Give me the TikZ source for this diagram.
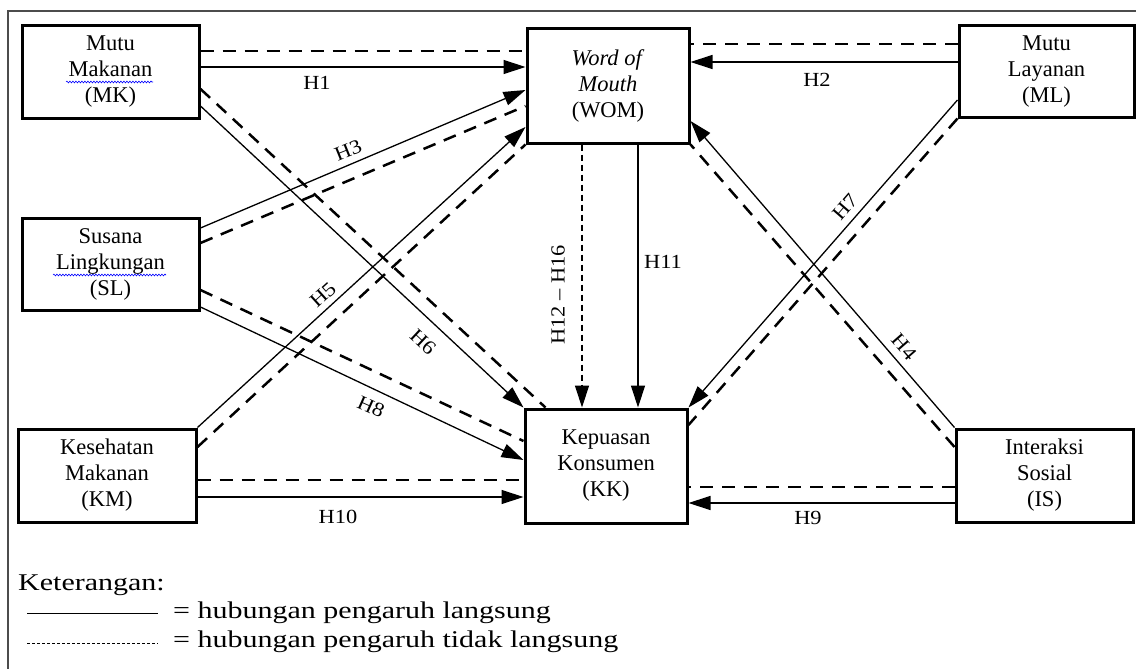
\documentclass[tikz,border=0pt]{standalone}
\usepackage{fontspec}
\setmainfont{Liberation Serif}
\usetikzlibrary{arrows.meta,decorations.pathmorphing}
\newcommand{\wx}[1]{\scalebox{1.25}[1]{#1}}
\newcommand{\hx}[1]{\scalebox{1.12}[1]{#1}}
\begin{document}
\begin{tikzpicture}[x=1pt,y=-1pt,
  box/.style={draw, line width=3pt, inner sep=0pt, align=center, font=\fontsize{22.5}{26}\selectfont},
  dir/.style={line width=1.3pt, -{Triangle[length=22pt,width=14pt]}},
  ind/.style={line width=2.5pt, dash pattern=on 13pt off 9pt},
  thind/.style={line width=1.3pt, dash pattern=on 6pt off 4pt, -{Triangle[length=22pt,width=14pt]}},
  lab/.style={font=\fontsize{20}{24}\selectfont, inner sep=0pt},
  leg/.style={anchor=base west, inner sep=0pt, font=\fontsize{24}{28}\selectfont},
  wavy/.style={blue, line width=0.6pt, decorate, decoration={snake, amplitude=0.9pt, segment length=3pt}},
  frame/.style={line width=1.3pt, black!70}
  ]
\useasboundingbox (0,0) rectangle (1136,669);
% frame
\draw[frame] (8,669) -- (8,11) -- (1136,11);

% boxes
\node[box, minimum width=177pt, minimum height=92pt] (MK) at (110.5,72) {Mutu\\Makanan\\(MK)};
\node[box, minimum width=162pt, minimum height=114pt] (WOM) at (608,86) {\textit{Word of}\\\textit{Mouth}\\(WOM)};
\node[box, minimum width=175pt, minimum height=91pt] (ML) at (1046.5,71.5) {Mutu\\Layanan\\(ML)};
\node[box, minimum width=177pt, minimum height=92pt] (SL) at (110.5,264) {Susana\\Lingkungan\\(SL)};
\node[box, minimum width=178pt, minimum height=93pt] (KM) at (107,475.5) {Kesehatan\\Makanan\\(KM)};
\node[box, minimum width=162pt, minimum height=114pt] (KK) at (606,466) {Kepuasan\\Konsumen\\(KK)};
\node[box, minimum width=177pt, minimum height=93pt] (IS) at (1044.5,475.5) {Interaksi\\Sosial\\(IS)};

% spell-check underlines
\draw[wavy] (66,82) -- (153,82);
\draw[wavy] (53,275) -- (166,275);

% H1
\draw[ind] ([yshift=21pt]MK.east) -- ([yshift=35pt]WOM.west);
\draw[dir] ([yshift=5pt]MK.east) -- ([yshift=19pt]WOM.west);
% H2
\draw[ind] ([yshift=27.5pt]ML.west) -- ([yshift=42pt]WOM.east);
\draw[dir] ([yshift=9.5pt]ML.west) -- ([yshift=24pt]WOM.east);
% H3
\draw[ind] ([yshift=21pt]SL.east) -- ([yshift=-20pt]WOM.west);
\draw[dir] ([yshift=36pt]SL.east) -- ([yshift=-4pt]WOM.west);
% H5
\draw[ind] ([yshift=28.5pt]KM.east) -- (WOM.south west);
\draw[dir] (KM.north east) -- ([yshift=-41pt]WOM.west);
% H6
\draw[ind] ([yshift=-17pt]MK.east) -- ([xshift=22pt]KK.north west);
\draw[dir] ([yshift=-34pt]MK.east) -- (KK.north west);
% H8
\draw[ind] ([yshift=-26pt]SL.east) -- ([yshift=25pt]KK.west);
\draw[dir] ([yshift=-43pt]SL.east) -- ([yshift=6pt]KK.west);
% H10
\draw[ind] ([yshift=-4.5pt]KM.east) -- ([yshift=-14pt]KK.west);
\draw[dir] ([yshift=-21.5pt]KM.east) -- ([yshift=-31pt]KK.west);
% H9
\draw[ind] ([yshift=-11.5pt]IS.west) -- ([yshift=-21pt]KK.east);
\draw[dir] ([yshift=-27.5pt]IS.west) -- ([yshift=-37pt]KK.east);
% H7
\draw[ind] (ML.south west) -- ([yshift=41pt]KK.east);
\draw[dir] ([yshift=-28.5pt]ML.west) -- (KK.north east);
% H4
\draw[ind] ([yshift=28.5pt]IS.west) -- (WOM.south east);
\draw[dir] (IS.north west) -- ([yshift=-35pt]WOM.east);
% H11 and H12-H16
\draw[dir] ([xshift=30pt]WOM.south) -- ([xshift=32pt]KK.north);
\draw[thind] ([xshift=-26pt]WOM.south) -- ([xshift=-24pt]KK.north);

% labels
\node[lab] (lH1) at (317,83) {\hx{H1}};
\node[lab] (lH2) at (817,80) {\hx{H2}};
\node[lab, rotate=22] (lH3) at (348,150) {\hx{H3}};
\node[lab, rotate=42] (lH5) at (323,295) {\hx{H5}};
\node[lab, rotate=-43] (lH6) at (423,342) {\hx{H6}};
\node[lab, rotate=-24] (lH8) at (371,407) {\hx{H8}};
\node[lab, rotate=49] (lH7) at (845,207) {\hx{H7}};
\node[lab, rotate=-49] (lH4) at (904,347) {\hx{H4}};
\node[lab] (lH11) at (663,262) {\hx{H11}};
\node[lab, rotate=90] (lH12) at (558,295) {\hx{H12 – H16}};
\node[lab] (lH10) at (338,517) {\hx{H10}};
\node[lab] (lH9) at (808,518) {\hx{H9}};

% legend
\node[leg] (ket) at (18,590) {\wx{Keterangan:}};
\coordinate (la) at (27,613);
\coordinate (lb) at (158,613);
\coordinate (lc) at (27,643);
\coordinate (ld) at (158,643);
\draw[line width=1pt] (la) -- (lb);
\draw[line width=1pt, dash pattern=on 3pt off 2pt] (lc) -- (ld);
\node[leg] (t1) at (173,618) {\wx{= hubungan pengaruh langsung}};
\node[leg] (t2) at (173,647) {\wx{= hubungan pengaruh tidak langsung}};
\end{tikzpicture}
\end{document}
